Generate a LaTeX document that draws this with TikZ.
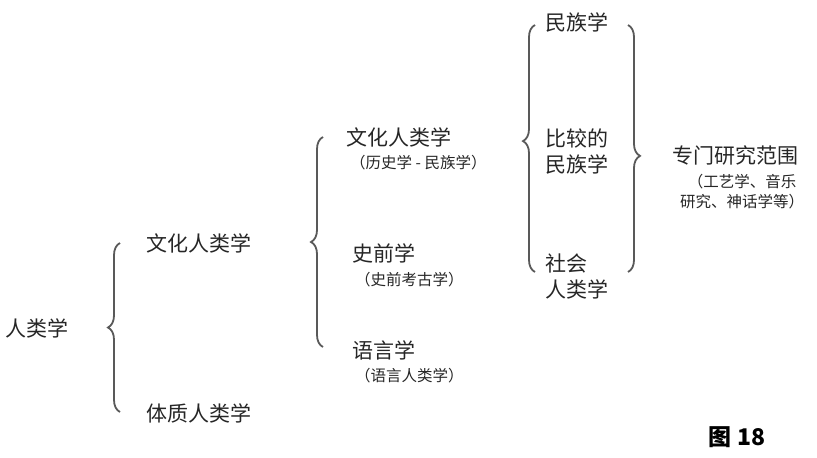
\documentclass[tikz,border=0pt]{standalone}
\usepackage{fontspec}
\setmainfont{Noto Sans CJK SC}
\usetikzlibrary{decorations.pathreplacing}
\begin{document}
\begin{tikzpicture}[x=1pt,y=-1pt,
  main/.style={font=\fontsize{21}{26}\selectfont,text=black!85,inner sep=0pt,align=left,anchor=west},
  sub/.style={font=\fontsize{15.5}{20}\selectfont,text=black!85,inner sep=0pt,align=center,anchor=west},
  br/.style={draw=black!65,line width=1.8pt,decorate,decoration={brace,amplitude=12pt}}]
\useasboundingbox (0,0) rectangle (817,458);
\node[main] (r) at (5,328) {人类学};
\node[main] (c1) at (146,243) {文化人类学};
\node[main] (p1) at (146,413) {体质人类学};
\node[main] (c2) at (346,137) {文化人类学};
\node[sub] (c2s) at (350,163) {（历史学 - 民族学）};
\node[main] (h) at (352,253) {史前学};
\node[sub] (hs) at (355,280) {（史前考古学）};
\node[main] (l) at (352,350) {语言学};
\node[sub] (ls) at (355,376) {（语言人类学）};
\node[main] (e1) at (545,22) {民族学};
\node[main] (e2) at (545,152) {比较的\\民族学};
\node[main] (e3) at (545,276) {社会\\人类学};
\node[main] (s) at (672,155) {专门研究范围};
\node[sub,anchor=center] (ss) at (742,192) {（工艺学、音乐\\研究、神话学等）};
\node[font=\bfseries\fontsize{23}{26}\selectfont] (f) at (737,437) {图 18};
\coordinate (b1a) at (120,412); \coordinate (b1b) at (120,243);
\coordinate (b2a) at (323,347); \coordinate (b2b) at (323,137);
\coordinate (b3a) at (535,272); \coordinate (b3b) at (535,25);
\coordinate (b4a) at (628,25); \coordinate (b4b) at (628,272);
\draw[br] (b1a) -- (b1b);
\draw[br] (b2a) -- (b2b);
\draw[br,decoration={brace,amplitude=12pt,aspect=0.53}] (b3a) -- (b3b);
\draw[br,decoration={brace,amplitude=12pt,aspect=0.53}] (b4a) -- (b4b);
\end{tikzpicture}
\end{document}
